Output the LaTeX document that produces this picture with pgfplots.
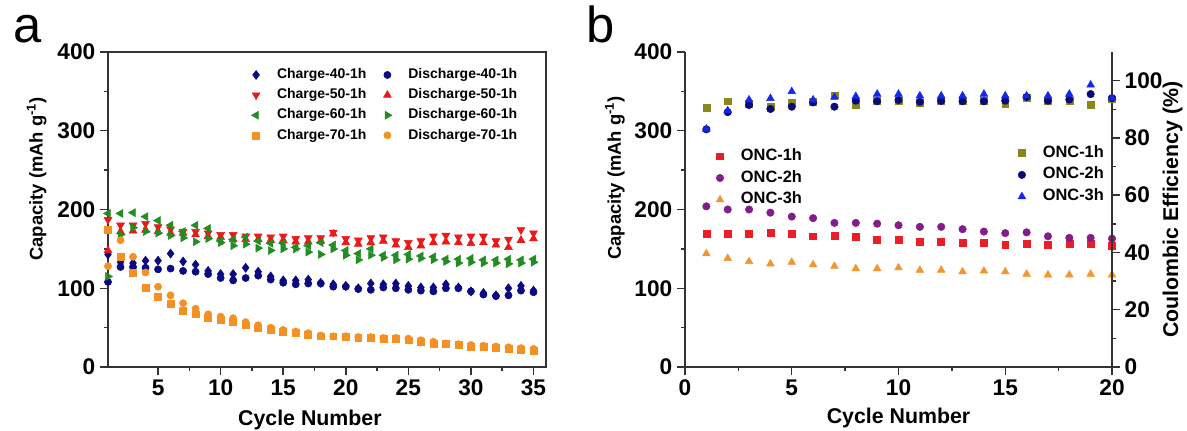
\documentclass[border=0pt]{standalone}
\usepackage{fontspec}
\setmainfont{Liberation Sans}
\usepackage{pgfplots}
\pgfplotsset{compat=1.18}
\definecolor{cnavy}{RGB}{10,10,130}
\definecolor{cred}{RGB}{235,25,25}
\definecolor{cgreen}{RGB}{35,140,35}
\definecolor{corange}{RGB}{245,145,35}
\definecolor{bred}{RGB}{235,30,40}
\definecolor{bpurple}{RGB}{130,30,140}
\definecolor{borange}{RGB}{242,150,45}
\definecolor{bolive}{RGB}{135,135,30}
\definecolor{bnavy}{RGB}{10,10,120}
\definecolor{bblue}{RGB}{20,40,235}
\newcommand{\tickfont}{\bfseries\fontsize{17}{17}\selectfont}
\newcommand{\labfont}{\bfseries\fontsize{16}{16}\selectfont}
\newcommand{\ylabfont}{\bfseries\fontsize{13.8}{14}\selectfont}
\pgfplotsset{
  myaxis/.style={
    scale only axis,
    /pgf/number format/assume math mode=true,
    tick label style={font=\tickfont},
    label style={font=\labfont},
    axis line style={line width=1.1pt, black!80},
    every tick/.style={line width=1.1pt, black!80},
    major tick length=6pt,
    minor tick length=3pt,
    tick align=outside,
    legend cell align=left,
    legend image code/.code={\path (-3pt,0pt) (14pt,0pt); \draw[##1] plot coordinates {(0pt,0pt)};},
  }
}
\begin{document}
\begin{tikzpicture}
\path[use as bounding box] (0pt,0pt) rectangle (890.25pt,322.5pt);
\node[anchor=base west, font=\fontsize{38}{38}\selectfont, inner sep=0pt] at (10pt,291pt) {a};
\node[anchor=base west, font=\fontsize{38}{38}\selectfont, inner sep=0pt] at (440pt,291pt) {b};
% ---------------- panel a
\begin{axis}[myaxis,
  at={(81pt,47.25pt)}, anchor=south west, width=328.5pt, height=236.25pt,
  xmin=1, xmax=36, ymin=0, ymax=400,
  xtick={5,10,...,35}, ytick={0,100,...,400},
  minor x tick num=1, minor y tick num=1,
  tick pos=left,
  xlabel={Cycle Number},
  ylabel={Capacity (mAh g\textsuperscript{-1})},
  xlabel style={at={(axis description cs:0.461,-0.168)}, anchor=center},
  ylabel style={at={(axis description cs:-0.163,0.597)}, anchor=center, font=\ylabfont},
  legend columns=2,
  legend style={at={(axis description cs:0.318,0.965)}, anchor=north west,
    draw=none, fill=none, font=\bfseries\fontsize{10.5}{11}\selectfont,
    nodes={inner sep=1.5pt, text height=8pt, text depth=2.5pt},
    row sep=1.6pt,
    /tikz/every even column/.append style={column sep=11pt}},
]
\addplot[only marks, mark=diamond*, mark size=3.4pt, color=cnavy] coordinates {
(1,143)(2,133)(3,132)(4,135)(5,135)(6,144)(7,134)(8,130)(9,122)(10,118)(11,118)(12,126)(13,121)(14,115)(15,110)(16,110)(17,111)(18,107)(19,105)(20,103)(21,100)(22,106)(23,105)(24,106)(25,103)(26,101)(27,101)(28,105)(29,101)(30,96)(31,94)(32,91)(33,100)(34,103)(35,97)};
\addlegendentry{Charge-40-1h}
\addplot[only marks, mark=*, mark size=2.7pt, color=cnavy] coordinates {
(1,108)(2,127)(3,127)(4,126)(5,124)(6,125)(7,122)(8,121)(9,118)(10,113)(11,110)(12,113)(13,116)(14,111)(15,107)(16,105)(17,106)(18,106)(19,102)(20,102)(21,99)(22,98)(23,101)(24,100)(25,98)(26,97)(27,96)(28,100)(29,100)(30,96)(31,92)(32,90)(33,91)(34,97)(35,95)};
\addlegendentry{Discharge-40-1h}
\addplot[only marks, mark=triangle*, mark size=3.4pt, mark options={rotate=180}, color=cred] coordinates {
(1,187)(2,180)(3,180)(4,182)(5,178)(6,175)(7,172)(8,172)(9,170)(10,168)(11,168)(12,166)(13,166)(14,165)(15,166)(16,163)(17,164)(18,164)(19,171)(20,163)(21,161)(22,164)(23,165)(24,160)(25,158)(26,160)(27,166)(28,167)(29,165)(30,166)(31,166)(32,160)(33,162)(34,174)(35,170)};
\addlegendentry{Charge-50-1h}
\addplot[only marks, mark=triangle*, mark size=3.4pt, color=cred] coordinates {
(1,148)(2,172)(3,173)(4,174)(5,172)(6,170)(7,170)(8,168)(9,166)(10,165)(11,162)(12,162)(13,162)(14,161)(15,161)(16,159)(17,159)(18,160)(19,169)(20,158)(21,156)(22,158)(23,160)(24,155)(25,152)(26,154)(27,158)(28,159)(29,158)(30,157)(31,158)(32,155)(33,152)(34,161)(35,163)};
\addlegendentry{Discharge-50-1h}
\addplot[only marks, mark=triangle*, mark size=3.4pt, mark options={rotate=90}, color=cgreen] coordinates {
(1,195)(2,195)(3,196)(4,191)(5,186)(6,180)(7,172)(8,180)(9,176)(10,160)(11,162)(12,165)(13,160)(14,157)(15,157)(16,152)(17,154)(18,158)(19,155)(20,148)(21,144)(22,150)(23,142)(24,142)(25,143)(26,141)(27,140)(28,137)(29,137)(30,138)(31,136)(32,136)(33,137)(34,136)(35,137)};
\addlegendentry{Charge-60-1h}
\addplot[only marks, mark=triangle*, mark size=3.4pt, mark options={rotate=-90}, color=cgreen] coordinates {
(1,115)(2,168)(3,177)(4,172)(5,170)(6,167)(7,164)(8,159)(9,163)(10,158)(11,154)(12,156)(13,151)(14,148)(15,150)(16,150)(17,146)(18,143)(19,150)(20,142)(21,136)(22,142)(23,139)(24,136)(25,137)(26,138)(27,136)(28,134)(29,132)(30,133)(31,132)(32,132)(33,131)(34,132)(35,133)};
\addlegendentry{Discharge-60-1h}
\addplot[only marks, mark=square*, mark size=2.6pt, color=corange] coordinates {
(1,174)(2,140)(3,120)(4,101)(5,89)(6,80)(7,72)(8,67)(9,63)(10,60)(11,57)(12,53)(13,50)(14,47)(15,45)(16,43)(17,41)(18,39)(19,39)(20,38)(21,37)(22,37)(23,36)(24,36)(25,34)(26,32)(27,30)(28,29)(29,28)(30,26)(31,26)(32,24)(33,23)(34,22)(35,21)};
\addlegendentry{Charge-70-1h}
\addplot[only marks, mark=*, mark size=2.7pt, color=corange] coordinates {
(1,128)(2,161)(3,140)(4,120)(5,102)(6,91)(7,81)(8,74)(9,67)(10,64)(11,62)(12,57)(13,53)(14,50)(15,47)(16,45)(17,43)(18,40)(19,39)(20,39)(21,38)(22,38)(23,37)(24,37)(25,36)(26,34)(27,32)(28,30)(29,29)(30,28)(31,27)(32,26)(33,25)(34,24)(35,23)};
\addlegendentry{Discharge-70-1h}
\end{axis}
% ---------------- panel b, left axis
\begin{axis}[myaxis,
  at={(513.75pt,47.25pt)}, anchor=south west, width=320.25pt, height=236.25pt,
  xmin=0, xmax=20, ymin=0, ymax=400,
  xtick={0,5,...,20}, ytick={0,100,...,400},
  minor x tick num=1, minor y tick num=1,
  axis x line*=bottom, axis y line*=left,
  xlabel={Cycle Number},
  ylabel={Capacity (mAh g\textsuperscript{-1})},
  xlabel style={at={(axis description cs:0.5,-0.162)}, anchor=center},
  ylabel style={at={(axis description cs:-0.164,0.6)}, anchor=center, font=\ylabfont},
  legend style={at={(axis description cs:0.062,0.71)}, anchor=north west,
    draw=none, fill=none, font=\bfseries\fontsize{12.3}{13}\selectfont,
    nodes={inner sep=1.5pt, text height=9pt, text depth=3pt},
    row sep=1.3pt},
]
\addplot[only marks, mark=square*, mark size=2.6pt, color=bred] coordinates {
(1,169)(2,169)(3,169)(4,170)(5,169)(6,166)(7,167)(8,165)(9,162)(10,161)(11,159)(12,159)(13,158)(14,158)(15,155)(16,156)(17,155)(18,157)(19,157)(20,154)};
\addlegendentry{ONC-1h}
\addplot[only marks, mark=*, mark size=2.8pt, color=bpurple] coordinates {
(1,204)(2,200)(3,200)(4,196)(5,191)(6,189)(7,183)(8,183)(9,182)(10,180)(11,178)(12,178)(13,175)(14,172)(15,170)(16,171)(17,166)(18,164)(19,164)(20,163)};
\addlegendentry{ONC-2h}
\addplot[only marks, mark=triangle*, mark size=3.3pt, color=borange] coordinates {
(1,144)(2,138)(3,134)(4,131)(5,133)(6,130)(7,128)(8,125)(9,125)(10,126)(11,123)(12,123)(13,121)(14,122)(15,121)(16,118)(17,117)(18,117)(19,118)(20,117)};
\addlegendentry{ONC-3h}
\end{axis}
% ---------------- panel b, right axis
\begin{axis}[myaxis,
  at={(513.75pt,47.25pt)}, anchor=south west, width=320.25pt, height=236.25pt,
  xmin=0, xmax=20, ymin=0, ymax=110,
  axis x line=none, axis y line*=right,
  ytick={0,20,...,100}, minor y tick num=1,
  ylabel={Coulombic Efficiency (\%)},
  ylabel style={at={(axis description cs:1.142,0.5)}, anchor=center},
  legend style={at={(axis description cs:0.769,0.72)}, anchor=north west,
    draw=none, fill=none, font=\bfseries\fontsize{12.3}{13}\selectfont,
    nodes={inner sep=1.5pt, text height=9pt, text depth=3pt},
    row sep=1.3pt},
]
\addplot[only marks, mark=square*, mark size=2.6pt, color=bolive] coordinates {
(1,90.4)(2,92.8)(3,92.0)(4,91.0)(5,92.2)(6,92.5)(7,94.9)(8,91.5)(9,93.0)(10,93.0)(11,92.4)(12,93.0)(13,93.0)(14,93.0)(15,91.8)(16,94.0)(17,93.0)(18,93.0)(19,91.5)(20,93.5)};
\addlegendentry{ONC-1h}
\addplot[only marks, mark=*, mark size=2.8pt, color=bnavy] coordinates {
(1,83.0)(2,89.0)(3,91.5)(4,90.1)(5,90.9)(6,92.4)(7,90.9)(8,93.0)(9,92.8)(10,93.2)(11,92.6)(12,92.9)(13,92.8)(14,92.8)(15,93.0)(16,94.3)(17,93.0)(18,93.4)(19,95.3)(20,93.9)};
\addlegendentry{ONC-2h}
\addplot[only marks, mark=triangle*, mark size=3.3pt, color=bblue] coordinates {
(1,83.1)(2,89.5)(3,93.3)(4,93.8)(5,96.2)(6,93.3)(7,94.2)(8,94.5)(9,95.3)(10,95.3)(11,94.7)(12,94.7)(13,94.7)(14,95.3)(15,94.7)(16,94.7)(17,94.7)(18,95.3)(19,98.5)(20,94.0)};
\addlegendentry{ONC-3h}
\end{axis}
\end{tikzpicture}
\end{document}
